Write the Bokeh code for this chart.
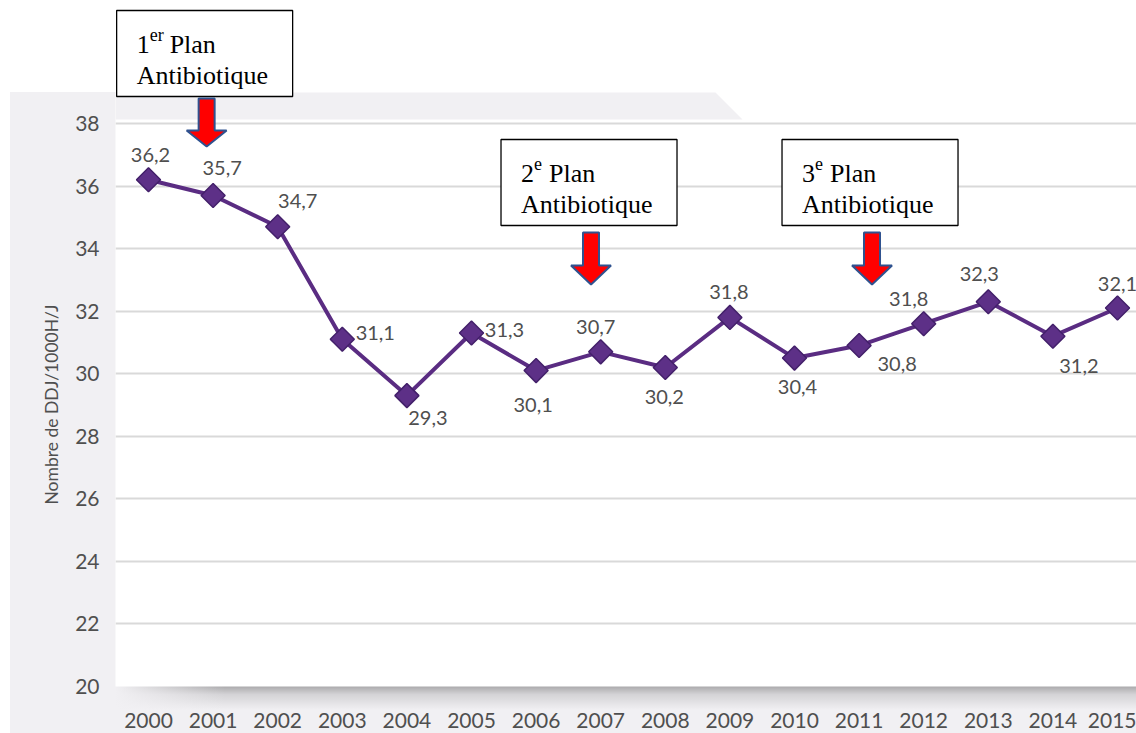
import math
from bokeh.plotting import figure
from bokeh.models import Range1d, FixedTicker, ColumnDataSource, Title
from bokeh.core.properties import value
from bokeh.embed import file_html
from bokeh.resources import INLINE

# ---------------- data ----------------
years = list(range(2000, 2016))
ddj = [36.2, 35.7, 34.7, 31.1, 29.3, 31.3, 30.1, 30.7, 30.2, 31.8, 30.5, 30.9, 31.6, 32.3, 31.2, 32.1]
value_labels = ["36,2", "35,7", "34,7", "31,1", "29,3", "31,3", "30,1", "30,7",
                "30,2", "31,8", "30,4", "30,8", "31,8", "32,3", "31,2", "32,1"]
y_ticks = [20, 22, 24, 26, 28, 30, 32, 34, 36, 38]
y_axis_title = "Nombre de DDJ/1000H/J"
plan_numbers = ["1", "2", "3"]
plan_sups = ["er", "e", "e"]
plan_word = "Plan"
plan_line2 = "Antibiotique"
plan_years = [2000.9, 2006.85, 2011.2]

# ---------------- layout (pixels) ----------------
W, H = 1136, 733
FL, FR, FT, FB = 115, 1136, 0, 686
PX_YEAR = 64.6
X2000 = 148
PX_UNIT = 563 / 18.0

x_start = 2000 - (X2000 - FL) / PX_YEAR
x_end = 2000 + (FR - X2000) / PX_YEAR
y_start = 20
y_end = 20 + (FB - FT) / PX_UNIT


def xv(px):
    return 2000 + (px - X2000) / PX_YEAR


def yv(py):
    return 20 + (FB - py) / PX_UNIT


def dxv(dpx):
    return dpx / PX_YEAR


GRAY = "#f1f0f3"
TXT = "#4f4f4f"
PURPLE = "#5a2c82"
FONT = "Lato"

p = figure(width=W, height=H, output_backend="svg", toolbar_location=None,
           x_range=Range1d(x_start, x_end), y_range=Range1d(y_start, y_end),
           min_border_left=FL, min_border_right=W - FR, min_border_top=FT,
           min_border_bottom=H - FB)
p.border_fill_color = None
p.background_fill_color = "white"
p.outline_line_color = None
p.styles = {
    "background": (
        "linear-gradient(to right, rgba(241,240,243,1), rgba(241,240,243,0)) 115px 686px / 110px 24px no-repeat, "
        "linear-gradient(to bottom, rgba(0,0,0,0.30), rgba(0,0,0,0.12) 35%, rgba(0,0,0,0)) 115px 686px / 1021px 24px no-repeat, "
        "linear-gradient(#f1f0f3, #f1f0f3) 10px 92px / 1126px 641px no-repeat, "
        "#ffffff"
    )
}

# axes
p.xaxis.ticker = FixedTicker(ticks=years)
p.yaxis.ticker = FixedTicker(ticks=y_ticks)
for ax in (p.xaxis[0], p.yaxis[0]):
    ax.axis_line_color = None
    ax.major_tick_line_color = None
    ax.minor_tick_line_color = None
    ax.major_label_text_font = FONT
    ax.major_label_text_color = TXT
    ax.major_label_text_font_size = "21px"
p.xaxis.major_label_standoff = 20
p.yaxis.major_label_standoff = 10
p.xgrid.grid_line_color = None
p.ygrid.grid_line_color = "#d9d9d9"
p.ygrid.grid_line_width = 2

# y axis title
p.add_layout(Title(text=y_axis_title, align="left", offset=182, text_font=FONT,
                   text_font_size="17.5px", text_color=TXT, text_font_style="normal",
                   standoff=22), "left")

# gray strip above plotting area (ends with a slanted edge)
p.patch([x_start, xv(715), xv(742), x_start], [yv(92), yv(92), yv(119), yv(119)],
        fill_color=GRAY, line_color=None)

# series
src = ColumnDataSource(dict(x=years, y=ddj, lab=value_labels,
                            dx=[2, 9, 20, 33, 21, 33, -3, -5, -1, -1, 3, 38, -15, -9, 26, 0],
                            dy=[-25, -27, -26, -6, 22, -3, 34, -25, 30, -25, 29, 18, -25, -28, 30, -24]))
p.line("x", "y", source=src, line_color=PURPLE, line_width=4)
p.scatter("x", "y", source=src, marker="square", size=17, angle=math.pi / 4,
          fill_color="#5d3087", line_color="#43206a", line_width=1.5)
p.text("x", "y", text="lab", source=src, x_offset="dx", y_offset="dy",
       text_align="center", text_baseline="middle", text_font=value(FONT),
       text_font_size="20px", text_color=TXT)

# plan annotation boxes and arrows
box_top_px = [10, 139, 139]
arrow_top_px = [98, 232, 232]
arrow_head_px = [130, 265, 265]
arrow_tip_px = [146, 284, 284]
plan_text_offsets = [33, 28, 28]
for i in range(3):
    cx = plan_years[i]
    bl, br = cx - dxv(90), cx + dxv(86)
    bt, bb = box_top_px[i], box_top_px[i] + 86
    p.quad(left=[bl], right=[br], top=[yv(bt)], bottom=[yv(bb)],
           fill_color="white", line_color="black", line_width=1.3)
    tx = bl + dxv(20)
    p.text([tx], [yv(bt + 34)], text=[plan_numbers[i]], text_font=value("Liberation Serif"),
           text_font_size="26px", text_color="black", text_baseline="alphabetic")
    p.text([tx + dxv(13)], [yv(bt + 24)], text=[plan_sups[i]], text_font=value("Liberation Serif"),
           text_font_size="18px", text_color="black", text_baseline="alphabetic")
    p.text([tx + dxv(plan_text_offsets[i])], [yv(bt + 34)], text=[plan_word],
           text_font=value("Liberation Serif"), text_font_size="26px", text_color="black",
           text_baseline="alphabetic")
    p.text([tx], [yv(bt + 65)], text=[plan_line2], text_font=value("Liberation Serif"),
           text_font_size="26px", text_color="black", text_baseline="alphabetic")
    xs = [cx - dxv(8), cx + dxv(8), cx + dxv(8), cx + dxv(20), cx, cx - dxv(20), cx - dxv(8)]
    ys = [yv(arrow_top_px[i]), yv(arrow_top_px[i]), yv(arrow_head_px[i]), yv(arrow_head_px[i]),
          yv(arrow_tip_px[i]), yv(arrow_head_px[i]), yv(arrow_head_px[i])]
    p.patch(xs, ys, fill_color="#ff0000", line_color="#2f528f", line_width=2)

open("out.html", "w").write(file_html(p, INLINE))
